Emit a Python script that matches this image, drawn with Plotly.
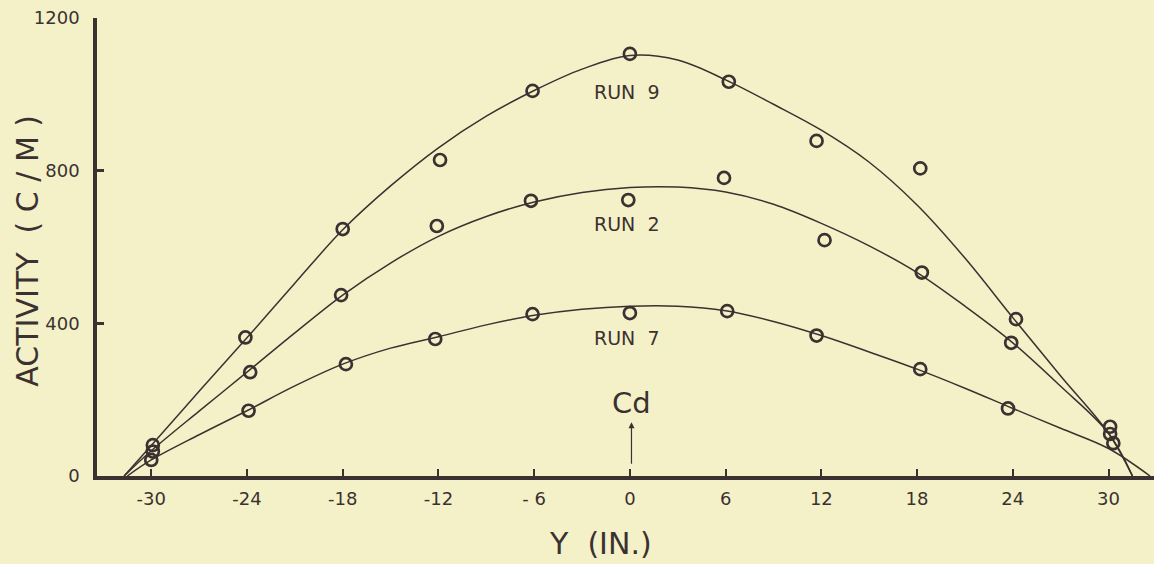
import plotly.graph_objects as go

# Measured activity points (Y position in inches, counts per minute)
run9_x = [-29.9, -24.1, -18.0, -11.9, -6.1, 0.0, 6.2, 11.7, 18.2, 24.2, 30.1]
run9_y = [81, 363, 647, 828, 1009, 1106, 1033, 878, 806, 411, 129]

run2_x = [-29.9, -23.8, -18.1, -12.1, -6.2, -0.1, 5.9, 12.2, 18.3, 23.9, 30.1]
run2_y = [64, 272, 474, 655, 721, 723, 781, 618, 533, 349, 110]

run7_x = [-30.0, -23.9, -17.8, -12.2, -6.1, 0.0, 6.1, 11.7, 18.2, 23.7, 30.3]
run7_y = [42, 171, 293, 359, 424, 427, 432, 368, 280, 177, 86]

# Hand-faired curves through each run
curve9_x = [-31.7, -30, -27, -24, -21, -18, -15, -12, -9, -6, -3, 0, 3, 6, 9, 12, 15, 18, 21, 24, 27, 30, 31.5]
curve9_y = [0, 80, 222, 362, 505, 645, 760, 860, 943, 1010, 1066, 1102, 1090, 1038, 974, 906, 822, 710, 571, 415, 262, 112, 0]

curve2_x = [-31.7, -30, -27, -24, -21, -18, -15, -12, -9, -6, -3, 0, 3, 6, 9, 12, 15, 18, 21, 24, 27, 30, 31.5]
curve2_y = [0, 66, 170, 272, 375, 474, 558, 628, 680, 718, 743, 756, 757, 744, 712, 662, 603, 533, 445, 349, 235, 112, 0]

curve7_x = [-31.5, -30, -27, -24, -21, -18, -15, -12, -9, -6, -3, 0, 3, 6, 9, 12, 15, 18, 21, 24, 27, 30, 32.6]
curve7_y = [0, 42, 108, 171, 236, 293, 335, 365, 396, 421, 437, 445, 445, 433, 405, 368, 325, 280, 230, 177, 125, 72, 0]

x_ticks = [-30, -24, -18, -12, -6, 0, 6, 12, 18, 24, 30]
x_tick_text = ["-30", "-24", "-18", "-12", "- 6", "0", "6", "12", "18", "24", "30"]
y_ticks = [0, 400, 800, 1200]
y_tick_text = ["0", "400", "800", "1200"]

INK = "#3b3131"
PAPER = "#f4f1c8"
FONT = "DejaVu Sans"

fig = go.Figure()

for cx, cy in [(curve9_x, curve9_y), (curve2_x, curve2_y), (curve7_x, curve7_y)]:
    fig.add_trace(go.Scatter(
        x=cx, y=cy, mode="lines",
        line=dict(color=INK, width=1.5, shape="spline", smoothing=1.0),
        hoverinfo="skip", showlegend=False,
    ))

for px, py in [(run9_x, run9_y), (run2_x, run2_y), (run7_x, run7_y)]:
    fig.add_trace(go.Scatter(
        x=px, y=py, mode="markers",
        marker=dict(symbol="circle-open", size=12, color=INK, line=dict(width=2.7, color=INK)),
        showlegend=False,
    ))

run_labels = [("RUN  9", 1007), ("RUN  2", 660), ("RUN  7", 361)]
for text, yv in run_labels:
    fig.add_annotation(x=-0.2, y=yv, text=text, showarrow=False,
                       font=dict(family=FONT, size=19, color=INK))

# Cd marker with arrow pointing up at the axis centre
fig.add_annotation(x=0.1, y=191, text="Cd", showarrow=False,
                   font=dict(family=FONT, size=29, color=INK))
fig.add_annotation(x=0.1, y=141, text="", showarrow=True, ax=0, ay=43,
                   arrowhead=2, arrowsize=1.0, arrowwidth=1.2, arrowcolor=INK)

fig.add_annotation(xref="paper", yref="paper", x=-0.0658, y=0.493,
                   xanchor="center", yanchor="middle",
                   text="ACTIVITY  ( C / M )", textangle=-90, showarrow=False,
                   font=dict(family=FONT, size=30, color=INK))
fig.add_annotation(xref="paper", yref="paper", x=0.4765, y=-0.148,
                   xanchor="center", yanchor="middle",
                   text="Y  (IN.)", showarrow=False,
                   font=dict(family=FONT, size=30, color=INK))

fig.update_layout(
    width=1154, height=564,
    margin=dict(l=97, r=0, t=18, b=88),
    paper_bgcolor=PAPER, plot_bgcolor=PAPER,
    xaxis=dict(
        range=[-33.4, 32.85], showgrid=False, zeroline=False,
        showline=True, linecolor=INK, linewidth=3.5,
        tickvals=x_ticks, ticktext=x_tick_text, ticks="inside",
        ticklen=7, tickwidth=2, tickcolor=INK,
        tickfont=dict(family=FONT, size=18, color=INK),
        ticklabelstandoff=4,
    ),
    yaxis=dict(
        range=[0, 1200], showgrid=False, zeroline=False,
        showline=True, linecolor=INK, linewidth=3.5,
        tickvals=y_ticks, ticktext=y_tick_text, ticks="inside",
        ticklen=7, tickwidth=2.5, tickcolor=INK,
        tickfont=dict(family=FONT, size=18, color=INK),
        ticklabelstandoff=10,
    ),
)

fig.write_html("out.html")
